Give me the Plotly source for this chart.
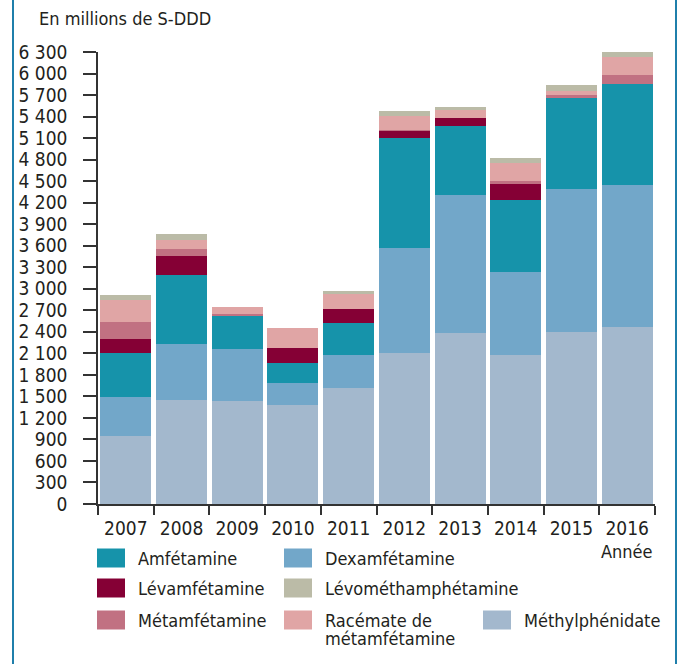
import plotly.graph_objects as go

years = ["2007", "2008", "2009", "2010", "2011", "2012", "2013", "2014", "2015", "2016"]

methylphenidate = [950, 1450, 1435, 1380, 1615, 2105, 2385, 2075, 2395, 2465]
dexamfetamine = [540, 780, 725, 305, 460, 1465, 1925, 1155, 1995, 1980]
amfetamine = [615, 960, 460, 280, 445, 1530, 960, 1005, 1270, 1410]
levamfetamine = [195, 265, 0, 210, 195, 100, 110, 225, 0, 0]
metamfetamine = [235, 100, 30, 0, 0, 15, 0, 40, 40, 125]
racemate = [310, 130, 100, 280, 215, 195, 110, 250, 55, 250]
levomethamphetamine = [65, 75, 0, 0, 40, 70, 40, 70, 85, 70]

series = [
    ("Méthylphénidate", methylphenidate, "#a3b8cd"),
    ("Dexamfétamine", dexamfetamine, "#72a7c9"),
    ("Amfétamine", amfetamine, "#1693aa"),
    ("Lévamfétamine", levamfetamine, "#850035"),
    ("Métamfétamine", metamfetamine, "#c17182"),
    ("Racémate de métamfétamine", racemate, "#e0a5a5"),
    ("Lévométhamphétamine", levomethamphetamine, "#bbbba7"),
]

FONT = "DejaVu Sans Condensed, Roboto, sans-serif"
TXT = "#231f20"
FS = 18

W, H = 679, 664
L, R, T, B = 98, 24, 52, 160
PW, PH = W - L - R, H - T - B


def px(x):
    return (x - L) / PW


def py(y):
    return (H - B - y) / PH


fig = go.Figure()
for name, vals, col in series:
    fig.add_trace(go.Bar(x=years, y=vals, name=name, marker=dict(color=col, line=dict(width=0)),
                         showlegend=False))

fig.update_layout(
    width=W, height=H,
    margin=dict(l=L, r=R, t=T, b=B, pad=0),
    barmode="stack", bargap=0.085,
    plot_bgcolor="white", paper_bgcolor="white",
    separators=", ",
    font=dict(family=FONT, size=FS, color=TXT),
)
fig.update_yaxes(
    range=[0, 6300], tickmode="linear", tick0=0, dtick=300, tickformat=",d",
    showgrid=False, zeroline=False, showline=True, linecolor="#333333", linewidth=1.5,
    ticks="outside", ticklen=13, tickwidth=1.5, tickcolor="#333333",
    ticklabelstandoff=12, tickfont=dict(family=FONT, size=19, color=TXT),
)
fig.update_xaxes(
    showgrid=False, zeroline=False, showline=True, linecolor="#333333", linewidth=1.5,
    ticks="outside", ticklen=9, tickwidth=1.5, tickcolor="#333333", tickson="boundaries",
    ticklabelstandoff=6, tickfont=dict(family=FONT, size=19, color=TXT),
)

ann = []
shapes = []
ann.append(dict(text="En millions de S-DDD", x=px(37), y=py(18), xref="paper", yref="paper",
                xanchor="left", yanchor="middle", showarrow=False, font=dict(size=FS)))
ann.append(dict(text="Année", x=px(655), y=py(551), xref="paper", yref="paper",
                xanchor="right", yanchor="middle", showarrow=False, font=dict(size=FS)))

legend_items = [
    ("Amfétamine", "#1693aa", 97, 558),
    ("Dexamfétamine", "#72a7c9", 284, 558),
    ("Lévamfétamine", "#850035", 97, 588),
    ("Lévométhamphétamine", "#bbbba7", 284, 588),
    ("Métamfétamine", "#c17182", 97, 620),
    ("Racémate de", "#e0a5a5", 284, 620),
    ("Méthylphénidate", "#a3b8cd", 483, 620),
]
for text, col, sx, cy in legend_items:
    shapes.append(dict(type="rect", xref="paper", yref="paper",
                       x0=px(sx), x1=px(sx + 28), y0=py(cy - 9.5), y1=py(cy + 9.5),
                       fillcolor=col, line=dict(width=0)))
    ann.append(dict(text=text, x=px(sx + 39), y=py(cy), xref="paper", yref="paper",
                    xanchor="left", yanchor="middle", showarrow=False, font=dict(size=FS)))
ann.append(dict(text="métamfétamine", x=px(284 + 39), y=py(638), xref="paper", yref="paper",
                xanchor="left", yanchor="middle", showarrow=False, font=dict(size=FS)))

for fx in (13, 676):
    shapes.append(dict(type="line", xref="paper", yref="paper", x0=px(fx), x1=px(fx),
                       y0=py(0), y1=py(H), line=dict(color="#1f7fab", width=2)))

fig.update_layout(annotations=ann, shapes=shapes)
fig.write_html("out.html", config={"displayModeBar": False},
               post_script="document.body.style.margin='0';")
